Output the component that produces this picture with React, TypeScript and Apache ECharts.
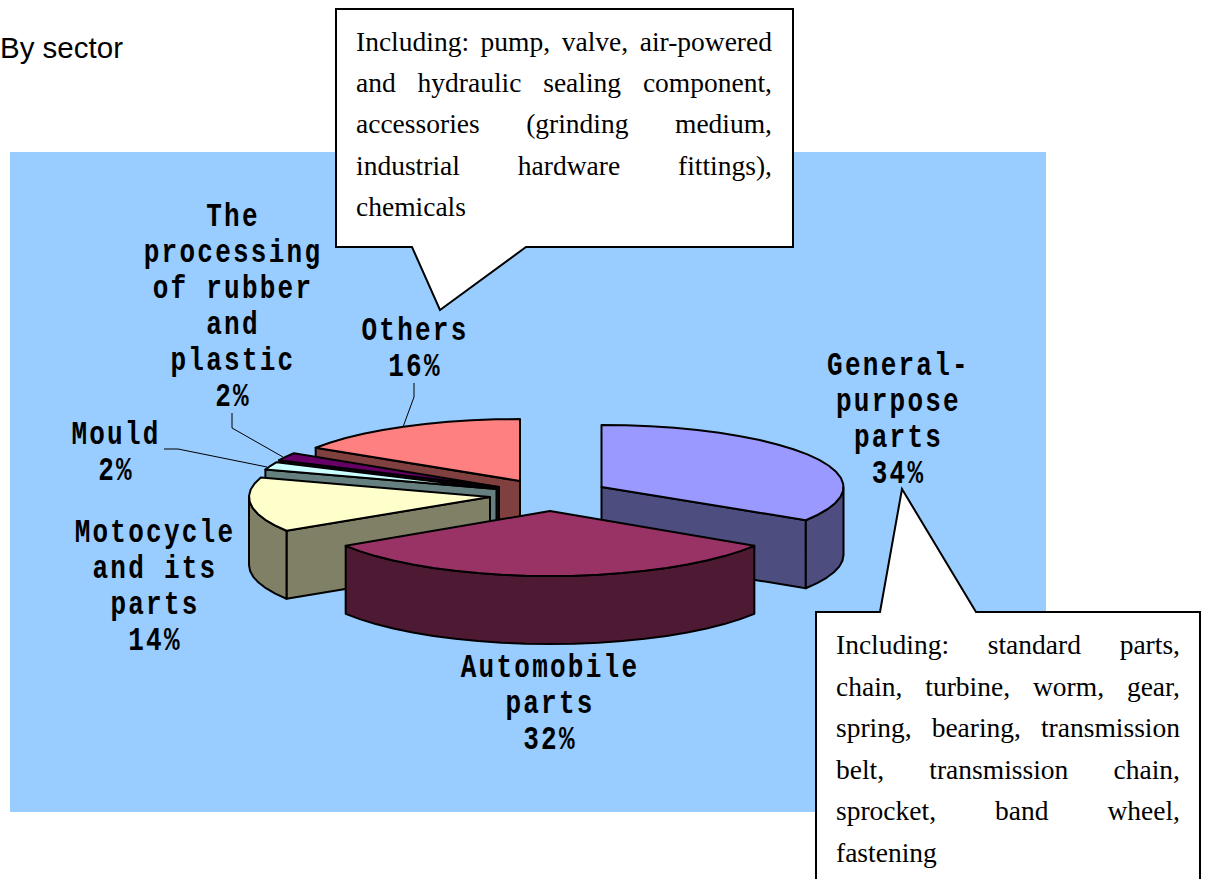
import React, { useEffect, useRef } from "react";
import * as echarts from "echarts";

const categories = ["General-purpose parts", "Automobile parts", "Motocycle and its parts", "Mould", "The processing of rubber and plastic", "Others"];
const values = [34, 32, 14, 2, 2, 16];
const labelLines = [
  ["General-", "purpose", "parts"],
  ["Automobile", "parts"],
  ["Motocycle", "and its", "parts"],
  ["Mould"],
  ["The", "processing", "of rubber", "and", "plastic"],
  ["Others"],
];
const topColors = ["#9999FF", "#993366", "#FFFFCC", "#CCFFFF", "#660066", "#FF8080"];
const sideColors = ["#4D4D80", "#4D1933", "#808066", "#668080", "#330033", "#804040"];
const calloutOthers = [
  "Including: pump, valve, air-powered",
  "and hydraulic sealing component,",
  "accessories (grinding medium,",
  "industrial hardware fittings),",
  "chemicals",
];
const calloutGeneral = [
  "Including: standard parts,",
  "chain, turbine, worm, gear,",
  "spring, bearing, transmission",
  "belt, transmission chain,",
  "sprocket, band wheel,",
  "fastening",
];

// Layout (not data)
const DEPTH = 68;
const radiiX = [242, 242, 241, 243, 243, 242];
const radiiY = [62, 65, 63, 63, 63, 62];
const apexes: number[][] = [[601.5, 487], [550, 511], [490, 497], [496.5, 489], [499, 487], [520, 481]];
const labelAnchors: number[][] = [[897.5, 366], [549, 668], [154, 533], [115, 435], [232, 217], [414, 331]];
const drawOrder = [5, 4, 3, 2, 0, 1];

const total = values.reduce((a, b) => a + b, 0);
const startAngles: number[] = [];
values.reduce((acc, v, i) => {
  startAngles[i] = acc;
  return acc + (v / total) * 360;
}, 0);

function rim(idx: number, deg: number, dy = 0) {
  const [cx, cy] = apexes[idx];
  const r = (deg * Math.PI) / 180;
  return [cx + radiiX[idx] * Math.sin(r), cy - radiiY[idx] * Math.cos(r) + dy];
}
function arc(idx: number, a0: number, a1: number, dy = 0) {
  const pts: number[][] = [];
  const n = Math.max(1, Math.ceil((a1 - a0) / 6));
  for (let i = 0; i <= n; i++) pts.push(rim(idx, a0 + ((a1 - a0) * i) / n, dy));
  return pts;
}

const renderSlice = (_params: any, api: any) => {
  const idx = api.value(0);
  const share = api.value(1);
  const a0 = api.value(2);
  const a1 = a0 + (share / total) * 360;
  const [cx, cy] = apexes[idx];
  const side = { fill: sideColors[idx], stroke: "#000", lineWidth: 2, lineJoin: "round" };
  const top = { fill: topColors[idx], stroke: "#000", lineWidth: 2, lineJoin: "round" };
  const children: any[] = [];
  const radial = (deg: number) => {
    const p = rim(idx, deg);
    children.push({
      type: "polygon",
      shape: { points: [[cx, cy], p, [p[0], p[1] + DEPTH], [cx, cy + DEPTH]] },
      style: side,
    });
  };
  if (a0 > 180 && a0 < 360) radial(a0);
  if (a1 > 0 && a1 < 180) radial(a1);
  const w0 = Math.max(a0, 90);
  const w1 = Math.min(a1, 270);
  if (w1 > w0) {
    children.push({
      type: "polygon",
      shape: { points: [...arc(idx, w0, w1), ...arc(idx, w0, w1, DEPTH).reverse()] },
      style: side,
    });
  }
  children.push({
    type: "polygon",
    shape: { points: [[cx, cy], ...arc(idx, a0, a1)] },
    style: top,
  });
  return { type: "group", children };
};

const labelFont = { fontFamily: "Liberation Mono", fontWeight: "bold", fontSize: 26, fill: "#000" };
const bodyFont = { fontFamily: "Liberation Serif", fontSize: 27.5, fill: "#000" };
const outline = { fill: "#fff", stroke: "#000", lineWidth: 2, lineJoin: "miter" };

function labelTexts(i: number) {
  return [...labelLines[i], `${values[i]}%`];
}

function buildGraphics() {
  const els: any[] = [];
  els.push({ type: "rect", shape: { x: 10, y: 152, width: 1036, height: 660 }, style: { fill: "#99CCFF" } });
  els.push({
    type: "text", x: 0, y: 47,
    style: { text: "By sector", fontFamily: "Liberation Sans", fontSize: 29.5, fill: "#000", align: "left", verticalAlign: "middle" },
  });
  els.push({
    type: "polygon",
    shape: { points: [[336, 9], [793, 9], [793, 247], [526, 247], [440, 310], [412, 247], [336, 247]] },
    style: outline,
  });
  els.push({
    type: "polygon",
    shape: { points: [[816, 612], [880, 612], [902, 489], [976, 612], [1200, 612], [1200, 900], [816, 900]] },
    style: outline,
  });
  calloutOthers.forEach((t, i) => {
    els.push({ type: "text", x: 356, y: 41 + i * 41.4, style: { ...bodyFont, text: t, align: "left", verticalAlign: "middle" } });
  });
  calloutGeneral.forEach((t, i) => {
    els.push({ type: "text", x: 836, y: 644.5 + i * 41.6, style: { ...bodyFont, text: t, align: "left", verticalAlign: "middle" } });
  });
  labelLines.forEach((_lines, i) => {
    const [x, y] = labelAnchors[i];
    labelTexts(i).forEach((t, k) => {
      els.push({
        type: "text", x: x + 1, y: y + k * 36, scaleY: 1.28,
        style: { ...labelFont, text: t, align: "center", verticalAlign: "middle" },
      });
    });
  });
  const leaders = [
    [[232, 413], [232, 428], [283, 457]],
    [[164, 449], [178, 449], [267, 467]],
    [[414, 383], [414, 397], [403, 427]],
  ];
  leaders.forEach((points) => {
    els.push({ type: "polyline", shape: { points }, style: { stroke: "#000", lineWidth: 1, fill: "none" } });
  });
  return els;
}

export default function App() {
  const ref = useRef<HTMLDivElement>(null);
  useEffect(() => {
    const chart = echarts.init(ref.current!, undefined, { renderer: "svg" });
    chart.setOption({
      animation: false,
      backgroundColor: "#fff",
      graphic: { elements: buildGraphics() },
      series: [
        {
          type: "custom",
          name: "By sector",
          coordinateSystem: "none",
          silent: true,
          clip: false,
          renderItem: renderSlice,
          data: drawOrder.map((i) => ({ name: categories[i], value: [i, values[i], startAngles[i]] })),
        },
      ],
    });
    const root = ref.current!;
    // Justify the callout lines, as in the reference
    const justify = (lines: string[], width: number) => {
      root.querySelectorAll("text").forEach((el: any) => {
        const t = el.textContent || "";
        const at = lines.indexOf(t);
        if (at >= 0 && at < lines.length - 1) {
          const gaps = t.split(" ").length - 1;
          const extra = (width - el.getComputedTextLength()) / gaps;
          el.style.wordSpacing = `${extra}px`;
        }
      });
    };
    justify(calloutOthers, 416);
    justify(calloutGeneral, 344);
    // The slice labels are widely spaced in the reference
    const spaced = new Set(values.flatMap((_v, i) => labelTexts(i)));
    root.querySelectorAll("text").forEach((el: any) => {
      if (spaced.has(el.textContent || "")) el.style.letterSpacing = "2.25px";
    });
    return () => chart.dispose();
  }, []);
  return <div ref={ref} style={{ position: "absolute", left: 0, top: 0, width: 1207, height: 879 }} />;
}
